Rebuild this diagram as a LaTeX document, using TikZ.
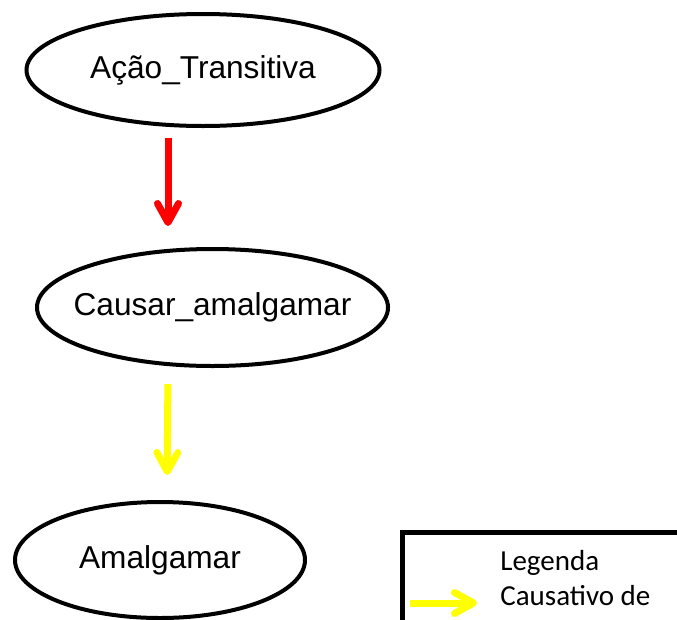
\documentclass[tikz,border=0pt]{standalone}
\usepackage{fontspec}
\setmainfont{Liberation Sans}
\newfontfamily\legfont{Carlito}
\usepackage{tikz}
\usetikzlibrary{
  positioning, shapes.geometric, arrows.meta
}
\definecolor{myred}{HTML}{FF0000}
\definecolor{myyellow}{HTML}{FFFF00}
% text that does not widen the ellipse
\newcommand{\ovaltext}[1]{\makebox[0pt]{#1}}
\tikzset{
	framenode/.style={
			ellipse,
			draw=black,
			line width=0.08cm,
			fill=white,
			inner sep=0pt,
			font=\fontsize{18}{21}\selectfont
		},
	causearrow/.style={
			line width=0.14cm,
			-{Straight Barb[round,length=0.38cm,width=0.42cm]}
		},
	legendbox/.style={
			rectangle,
			draw=black,
			line width=0.1cm,
			anchor=north west,
			minimum width=7cm,
			minimum height=3cm
		},
	legendtext/.style={
			anchor=base west,
			inner sep=0pt,
			font=\legfont\fontsize{16.5}{19}\selectfont
		}
}

\begin{document}
\begin{tikzpicture}
\useasboundingbox (0,0) rectangle (13.54,-12.38);
\clip (0,0) rectangle (13.54,-12.38);

\node[framenode, minimum width=7.06cm, minimum height=2.24cm] (n1) at (4.06,-1.40)  {\ovaltext{Ação\_Transitiva}};
\node[framenode, minimum width=7.02cm, minimum height=2.34cm] (n2) at (4.25,-6.15)  {\ovaltext{Causar\_amalgamar}};
\node[framenode, minimum width=5.80cm, minimum height=2.32cm] (n3) at (3.20,-11.20) {\ovaltext{Amalgamar}};

\draw[causearrow, myred, shorten <=0.2cm, shorten >=0.42cm]
  ([xshift=-0.70cm]n1.south) -- ([xshift=-0.89cm]n2.north);
\draw[causearrow, myyellow, shorten <=0.32cm, shorten >=0.5cm]
  ([xshift=-0.89cm]n2.south) -- ([xshift=0.14cm]n3.north);

% legenda
\node[legendbox] (l1) at (8.0,-10.6) {};
\node[legendtext] (l2) at (10.0,-11.40) {Legenda};
\node[legendtext] (l3) at (10.0,-12.10) {Causativo de};
\coordinate (l4) at (8.2,-12.06);
\coordinate (l5) at (9.54,-12.06);
\draw[causearrow, myyellow] (l4) -- (l5);

\end{tikzpicture}
\end{document}
